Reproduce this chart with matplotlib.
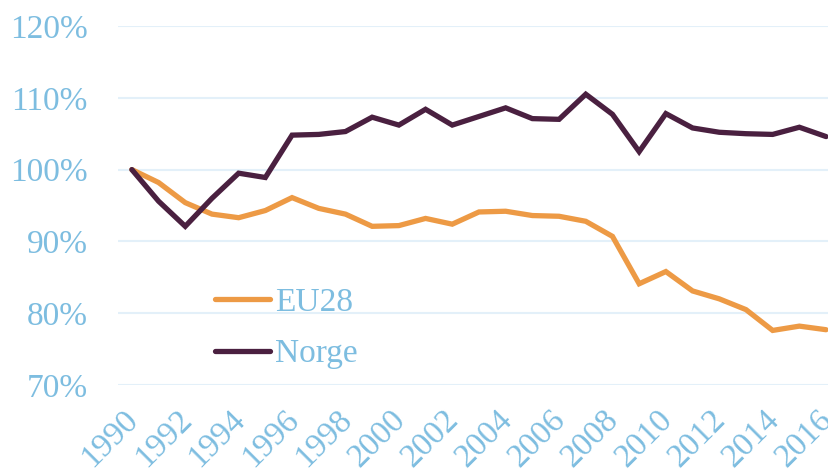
import matplotlib.pyplot as plt
import matplotlib.transforms as mtransforms

years = list(range(1990, 2017))
eu28 = [100, 98.2, 95.4, 93.8, 93.3, 94.3, 96.1, 94.6, 93.8, 92.1, 92.2, 93.2, 92.4,
        94.1, 94.2, 93.6, 93.5, 92.8, 90.7, 84.1, 85.8, 83.1, 82.0, 80.5, 77.6, 78.2, 77.7]
norge = [100, 95.6, 92.1, 96.0, 99.5, 98.9, 104.8, 104.9, 105.3, 107.3, 106.2, 108.4, 106.2,
         107.4, 108.6, 107.1, 107.0, 110.5, 107.7, 102.5, 107.8, 105.8, 105.2, 105.0, 104.9, 105.9, 104.6]
yticks = [70, 80, 90, 100, 110, 120]

label_col = '#7dbde0'
plt.rcParams['font.family'] = ['Liberation Serif', 'DejaVu Serif']

fig = plt.figure(figsize=(8.29, 4.76), dpi=100)
ax = fig.add_axes([118.5 / 829, 1 - 385 / 476, 1 - 118.5 / 829, (385 - 26) / 476])

ax.plot(years, eu28, color='#ed9a45', lw=3.8, label='EU28', solid_capstyle='round', solid_joinstyle='miter')
ax.plot(years, norge, color='#4a2040', lw=3.8, label='Norge', solid_capstyle='round', solid_joinstyle='miter')

ax.set_xlim(1989.5, 2016.11)
ax.set_ylim(70, 120)
ax.set_yticks(yticks)
ax.set_yticklabels([f'{v}%' for v in yticks])
ax.set_xticks(years[::2])
ax.set_xticklabels([str(y) for y in years[::2]], rotation=45, ha='right', va='top',
                   rotation_mode='anchor')
ax.grid(axis='y', color='#e3f0f9', lw=1.5)
ax.set_axisbelow(True)
for s in ax.spines.values():
    s.set_visible(False)
ax.tick_params(length=0, labelcolor=label_col, labelsize=24)
ax.tick_params(axis='y', pad=22)
ax.tick_params(axis='x', pad=14)

# nudge the year labels a little to the left
shift = mtransforms.ScaledTranslation(-9 / 100, 0, fig.dpi_scale_trans)
for lbl in ax.get_xticklabels():
    lbl.set_transform(lbl.get_transform() + shift)

leg = ax.legend(loc='upper left', bbox_to_anchor=(0.094, 0.355), frameon=False, fontsize=24,
                handlelength=1.65, handletextpad=0.15, labelspacing=0.62)
for t in leg.get_texts():
    t.set_color(label_col)

fig.savefig('out.png', dpi=100)
